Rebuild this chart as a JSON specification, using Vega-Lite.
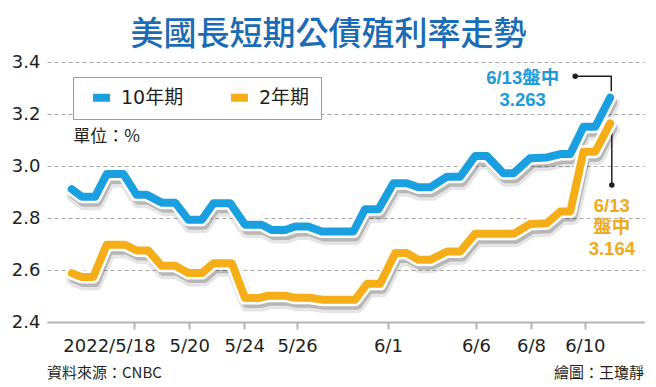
{
  "$schema": "https://vega.github.io/schema/vega-lite/v6.json",
  "width": 597,
  "height": 260,
  "autosize": {"type": "none"},
  "padding": {"left": 47, "top": 62, "right": 12, "bottom": 65},
  "background": "white",
  "title": {"text": "美國長短期公債殖利率走勢", "font": "Noto Sans CJK TC", "fontSize": 33, "fontWeight": 500, "color": "#1b6cb5", "anchor": "middle", "frame": "group", "dx": -17, "offset": 1},
  "config": {"view": {"stroke": null}, "font": "DejaVu Sans"},
  "datasets": {
    "lines": [
      {"s": "10年期", "t": 0.9, "v": 2.911}, {"s": "10年期", "t": 1.26, "v": 2.882}, {"s": "10年期", "t": 1.75, "v": 2.882},
      {"s": "10年期", "t": 2.17, "v": 2.969}, {"s": "10年期", "t": 2.78, "v": 2.969}, {"s": "10年期", "t": 3.26, "v": 2.889},
      {"s": "10年期", "t": 3.63, "v": 2.889}, {"s": "10年期", "t": 4.17, "v": 2.859}, {"s": "10年期", "t": 4.66, "v": 2.859},
      {"s": "10年期", "t": 5.14, "v": 2.793}, {"s": "10年期", "t": 5.63, "v": 2.793}, {"s": "10年期", "t": 6.05, "v": 2.857},
      {"s": "10年期", "t": 6.66, "v": 2.857}, {"s": "10年期", "t": 7.2, "v": 2.774}, {"s": "10年期", "t": 7.81, "v": 2.774},
      {"s": "10年期", "t": 8.17, "v": 2.754}, {"s": "10年期", "t": 8.66, "v": 2.754}, {"s": "10年期", "t": 9.02, "v": 2.767},
      {"s": "10年期", "t": 9.49, "v": 2.767}, {"s": "10年期", "t": 9.99, "v": 2.748}, {"s": "10年期", "t": 11.14, "v": 2.748},
      {"s": "10年期", "t": 11.56, "v": 2.834}, {"s": "10年期", "t": 12.05, "v": 2.834}, {"s": "10年期", "t": 12.59, "v": 2.934},
      {"s": "10年期", "t": 13.08, "v": 2.934}, {"s": "10年期", "t": 13.5, "v": 2.918}, {"s": "10年期", "t": 13.93, "v": 2.918},
      {"s": "10年期", "t": 14.54, "v": 2.959}, {"s": "10年期", "t": 15.02, "v": 2.959}, {"s": "10年期", "t": 15.56, "v": 3.038},
      {"s": "10年期", "t": 15.99, "v": 3.038}, {"s": "10年期", "t": 16.59, "v": 2.972}, {"s": "10年期", "t": 16.96, "v": 2.972},
      {"s": "10年期", "t": 17.56, "v": 3.03}, {"s": "10年期", "t": 18.17, "v": 3.033}, {"s": "10年期", "t": 18.66, "v": 3.046},
      {"s": "10年期", "t": 19.02, "v": 3.046}, {"s": "10年期", "t": 19.5, "v": 3.151}, {"s": "10年期", "t": 19.93, "v": 3.151},
      {"s": "10年期", "t": 20.47, "v": 3.263},
      {"s": "2年期", "t": 0.9, "v": 2.588}, {"s": "2年期", "t": 1.26, "v": 2.573}, {"s": "2年期", "t": 1.68, "v": 2.573},
      {"s": "2年期", "t": 2.17, "v": 2.697}, {"s": "2年期", "t": 2.84, "v": 2.697}, {"s": "2年期", "t": 3.26, "v": 2.675},
      {"s": "2年期", "t": 3.68, "v": 2.675}, {"s": "2年期", "t": 4.17, "v": 2.616}, {"s": "2年期", "t": 4.66, "v": 2.616},
      {"s": "2年期", "t": 5.14, "v": 2.588}, {"s": "2年期", "t": 5.63, "v": 2.588}, {"s": "2年期", "t": 6.05, "v": 2.626},
      {"s": "2年期", "t": 6.72, "v": 2.626}, {"s": "2年期", "t": 7.2, "v": 2.492}, {"s": "2年期", "t": 7.68, "v": 2.492},
      {"s": "2年期", "t": 8.04, "v": 2.501}, {"s": "2年期", "t": 8.66, "v": 2.501}, {"s": "2年期", "t": 9.02, "v": 2.493},
      {"s": "2年期", "t": 9.56, "v": 2.493}, {"s": "2年期", "t": 9.99, "v": 2.486}, {"s": "2年期", "t": 11.2, "v": 2.486},
      {"s": "2年期", "t": 11.63, "v": 2.547}, {"s": "2年期", "t": 12.11, "v": 2.547}, {"s": "2年期", "t": 12.66, "v": 2.665},
      {"s": "2年期", "t": 13.08, "v": 2.665}, {"s": "2年期", "t": 13.5, "v": 2.639}, {"s": "2年期", "t": 13.93, "v": 2.639},
      {"s": "2年期", "t": 14.54, "v": 2.671}, {"s": "2年期", "t": 15.02, "v": 2.671}, {"s": "2年期", "t": 15.56, "v": 2.739},
      {"s": "2年期", "t": 16.96, "v": 2.739}, {"s": "2年期", "t": 17.56, "v": 2.777}, {"s": "2年期", "t": 18.17, "v": 2.78},
      {"s": "2年期", "t": 18.66, "v": 2.825}, {"s": "2年期", "t": 19.02, "v": 2.825}, {"s": "2年期", "t": 19.5, "v": 3.055},
      {"s": "2年期", "t": 19.93, "v": 3.055}, {"s": "2年期", "t": 20.47, "v": 3.164}
    ],
    "callout": [
      {"g": "a", "k": 1, "t": 19.2, "v": 3.345}, {"g": "a", "k": 2, "t": 20.51, "v": 3.345}, {"g": "a", "k": 3, "t": 20.51, "v": 3.263},
      {"g": "b", "k": 1, "t": 20.53, "v": 2.927}, {"g": "b", "k": 2, "t": 20.53, "v": 3.164}
    ],
    "dots": [{"t": 19.2, "v": 3.345}, {"t": 20.53, "v": 2.927}],
    "bluenote": [{"t": 17.29, "v": 3.315, "label": "6/13盤中"}, {"t": 17.29, "v": 3.232, "label": "3.263"}],
    "orangenote": [{"t": 20.53, "v": 2.825, "label": "6/13"}, {"t": 20.53, "v": 2.742, "label": "盤中"}, {"t": 20.53, "v": 2.659, "label": "3.164"}]
  },
  "encoding": {
    "x": {"field": "t", "type": "quantitative", "scale": {"domain": [0, 21.7], "nice": false, "zero": false},
      "axis": {"values": [3.16, 5.17, 7.17, 9.09, 12.39, 15.59, 17.59, 19.55],
        "labelExpr": "datum.value < 4 ? '2022/5/18' : datum.value < 6 ? '5/20' : datum.value < 8 ? '5/24' : datum.value < 10 ? '5/26' : datum.value < 13 ? '6/1' : datum.value < 16 ? '6/6' : datum.value < 18 ? '6/8' : '6/10'",
        "grid": false, "domainColor": "#b4b4b4", "domainWidth": 2, "tickColor": "#b4b4b4", "tickWidth": 2, "tickSize": 7,
        "labelFontSize": 18, "labelFont": "DejaVu Sans", "labelColor": "#231f20", "labelPadding": 8,
        "labelOffset": {"condition": {"test": "datum.value < 4", "value": -25}, "value": 0},
        "labelOverlap": false, "labelFlush": false, "title": null}},
    "y": {"field": "v", "type": "quantitative", "scale": {"domain": [2.4, 3.4], "nice": false, "zero": false},
      "axis": {"values": [2.4, 2.6, 2.8, 3.0, 3.2, 3.4], "format": ".1f", "domain": false, "ticks": false, "grid": true,
        "gridDash": [4, 3], "gridColor": "#a8a8a8", "gridWidth": 1, "labelFontSize": 18, "labelFont": "DejaVu Sans",
        "labelColor": "#231f20", "labelPadding": 7, "title": null}}
  },
  "layer": [
    {"data": {"name": "lines"}, "mark": {"type": "line", "color": "#000", "opacity": 0.1, "strokeWidth": 15, "xOffset": 2, "yOffset": 6, "strokeCap": "round", "strokeJoin": "round"},
      "encoding": {"detail": {"field": "s"}}},
    {"data": {"name": "lines"}, "mark": {"type": "line", "color": "#000", "opacity": 0.2, "strokeWidth": 10, "xOffset": 2, "yOffset": 5, "strokeCap": "round", "strokeJoin": "round"},
      "encoding": {"detail": {"field": "s"}}},
    {"data": {"name": "callout"}, "mark": {"type": "line", "color": "#231f20", "strokeWidth": 1.5},
      "encoding": {"detail": {"field": "g"}, "order": {"field": "k"}}},
    {"data": {"name": "lines"}, "mark": {"type": "line", "color": "white", "strokeWidth": 13, "strokeCap": "round", "strokeJoin": "round"},
      "encoding": {"detail": {"field": "s"}}},
    {"data": {"name": "lines"}, "mark": {"type": "line", "strokeWidth": 8, "strokeCap": "round", "strokeJoin": "round"},
      "encoding": {"color": {"field": "s", "type": "nominal", "scale": {"domain": ["10年期", "2年期"], "range": ["#1aa0e0", "#f5ae17"]},
        "legend": {"title": null, "orient": "none", "legendX": 26, "legendY": 15, "direction": "horizontal",
          "symbolType": "M-1,-0.47H1V0.47H-1Z", "symbolSize": 289, "symbolStrokeWidth": 0,
          "labelFont": "DejaVu Sans, Noto Sans CJK TC", "labelFontSize": 19, "labelColor": "#231f20", "labelOffset": 10,
          "columnPadding": 38, "padding": 11, "strokeColor": "#9a9a9a", "fillColor": "white", "symbolOffset": 8,
          "encode": {"symbols": {"update": {"fill": {"scale": "color", "field": "value"}, "stroke": {"value": "transparent"}}}}}}}},
    {"data": {"name": "dots"}, "mark": {"type": "point", "filled": true, "color": "#231f20", "size": 30, "opacity": 1}},
    {"data": {"name": "bluenote"},
      "mark": {"type": "text", "align": "center", "baseline": "alphabetic", "font": "Liberation Sans, Noto Sans CJK TC", "fontWeight": "bold", "fontSize": 18.5, "color": "#1c9ad9"},
      "encoding": {"text": {"field": "label"}}},
    {"data": {"name": "orangenote"},
      "mark": {"type": "text", "align": "center", "baseline": "alphabetic", "font": "Liberation Sans, Noto Sans CJK TC", "fontWeight": "bold", "fontSize": 18.5, "color": "#f1a91c"},
      "encoding": {"text": {"field": "label"}}},
    {"data": {"values": [{"t": 0.95, "v": 3.092, "label": "單位：%"}]},
      "mark": {"type": "text", "align": "left", "baseline": "alphabetic", "font": "Noto Sans CJK TC", "fontSize": 17, "color": "#231f20"},
      "encoding": {"text": {"field": "label"}}},
    {"data": {"values": [{"t": 0, "v": 2.186, "label": "資料來源：CNBC"}]},
      "mark": {"type": "text", "align": "left", "baseline": "alphabetic", "font": "Noto Sans CJK TC", "fontSize": 15, "color": "#231f20"},
      "encoding": {"text": {"field": "label"}}},
    {"data": {"values": [{"t": 21.7, "v": 2.186, "label": "繪圖：王瓊靜"}]},
      "mark": {"type": "text", "align": "right", "baseline": "alphabetic", "font": "Noto Sans CJK TC", "fontSize": 15, "color": "#231f20"},
      "encoding": {"text": {"field": "label"}}}
  ]
}
